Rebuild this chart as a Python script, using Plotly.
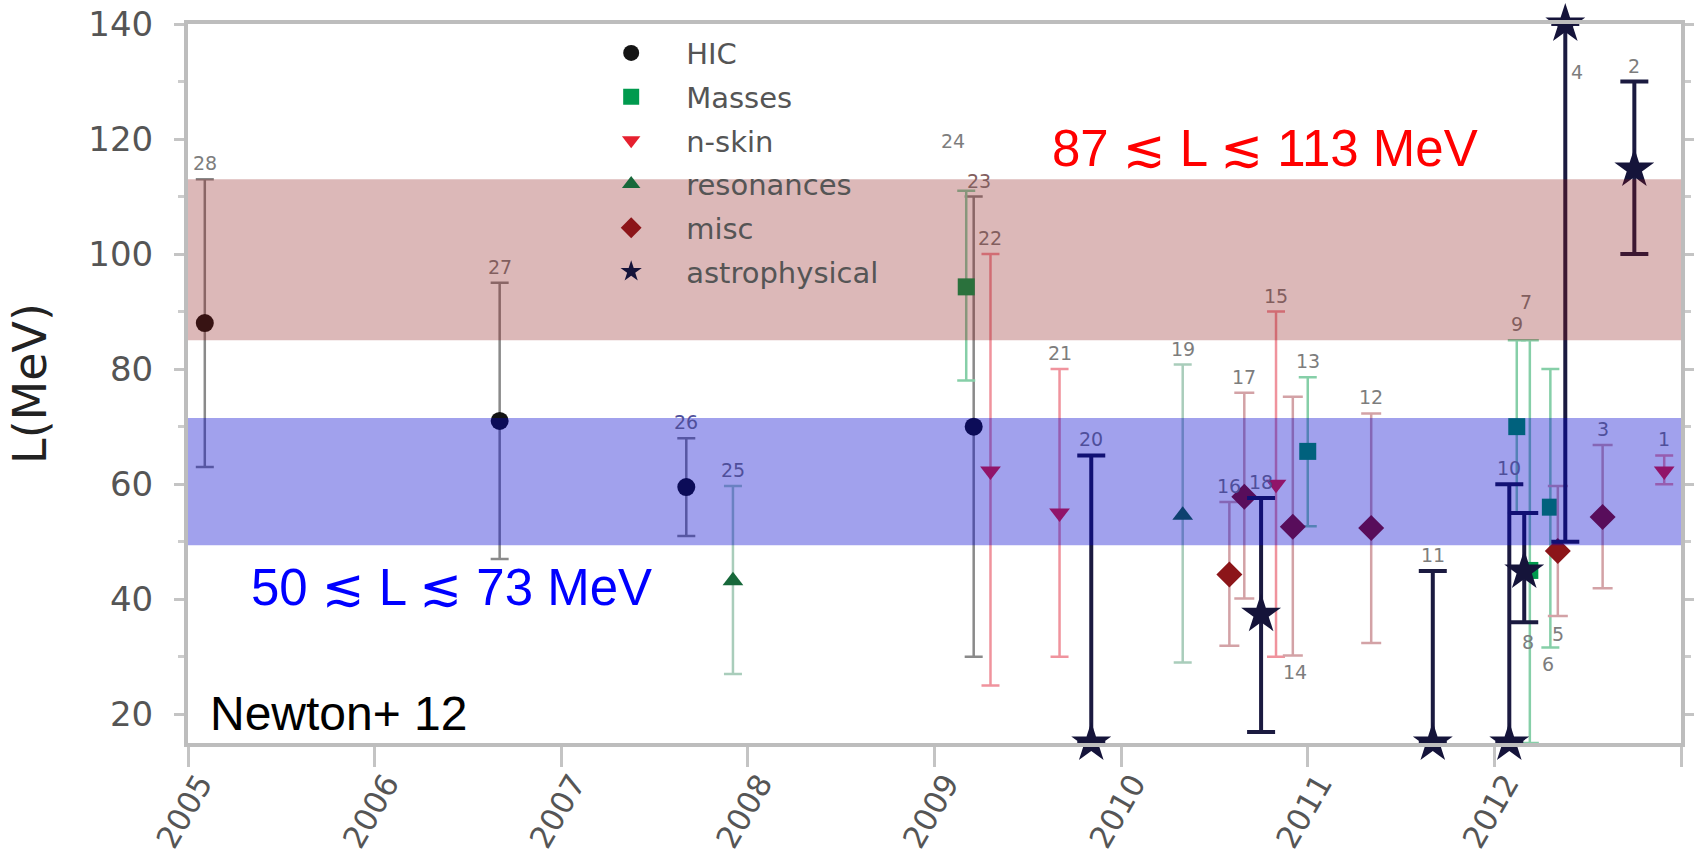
import plotly.graph_objects as go

# ---- constraint data: id, publication year, central L (MeV), lower / upper bound ----
hic_id = [28, 27, 26, 23]
hic_year = [2005.09, 2006.67, 2007.67, 2009.21]
hic_L = [88.0, 71.0, 59.5, 70.0]
hic_lo = [63.0, 47.0, 51.0, 30.0]
hic_hi = [113.0, 95.0, 68.0, 110.0]

mass_id = [24, 13, 9, 7, 6]
mass_year = [2009.17, 2011.00, 2012.12, 2012.19, 2012.30]
mass_L = [94.3, 65.7, 70.0, 45.0, 56.0]
mass_lo = [78.0, 52.7, 55.0, 15.0, 31.6]
mass_hi = [111.0, 78.6, 85.0, 85.0, 80.0]

skin_id = [22, 21, 15, 1]
skin_year = [2009.30, 2009.67, 2010.83, 2012.91]
skin_L = [62.3, 55.0, 60.0, 62.3]
skin_lo = [25.0, 30.0, 30.0, 60.0]
skin_hi = [100.0, 80.0, 90.0, 65.0]

res_id = [25, 19]
res_year = [2007.92, 2010.33]
res_L = [43.2, 54.6]
res_lo = [27.0, 29.0]
res_hi = [59.7, 80.8]

misc_id = [16, 17, 14, 12, 5, 3]
misc_year = [2010.58, 2010.66, 2010.92, 2011.34, 2012.34, 2012.58]
misc_L = [44.3, 57.8, 52.6, 52.4, 48.4, 54.3]
misc_lo = [31.9, 40.1, 30.2, 32.4, 37.1, 41.9]
misc_hi = [56.9, 75.9, 75.2, 72.3, 59.7, 66.8]

astro_id = [20, 18, 11, 10, 8, 4, 2]
astro_year = [2009.84, 2010.75, 2011.67, 2012.08, 2012.16, 2012.38, 2012.75]
astro_L = [15.0, 37.4, 15.0, 15.0, 44.9, 140.0, 114.8]
astro_lo = [15.0, 16.9, 15.0, 15.0, 36.0, 50.0, 100.0]
astro_hi = [65.0, 57.6, 44.9, 60.0, 55.0, 140.0, 130.0]

# consensus bands (MeV)
band_low = [49.4, 71.5]
band_high = [85.0, 113.0]

year_ticks = [2005, 2006, 2007, 2008, 2009, 2010, 2011, 2012, 2013]
year_text = ["2005", "2006", "2007", "2008", "2009", "2010", "2011", "2012", ""]
L_ticks = [20, 40, 60, 80, 100, 120, 140]

# ---- styling ----
BLUE_RGB, BLUE_A = (0, 0, 205), 0.37
RED_RGB, RED_A = (140, 20, 20), 0.30
FONT = "DejaVu Sans"
BIG_FONT = "Liberation Sans, Arial, DejaVu Sans"
Y_RANGE = [15.0, 140.0]

groups = [
    dict(name="HIC", ids=hic_id, x=hic_year, y=hic_L, lo=hic_lo, hi=hic_hi,
         symbol="circle", color="#141414", size=18, ecolor="#8a8a8a", eth=2.5, ew=9),
    dict(name="Masses", ids=mass_id, x=mass_year, y=mass_L, lo=mass_lo, hi=mass_hi,
         symbol="square", color="#009a4e", size=17, ecolor="#86cfa8", eth=2.5, ew=9),
    dict(name="n-skin", ids=skin_id, x=skin_year, y=skin_L, lo=skin_lo, hi=skin_hi,
         symbol="triangle-down", color="#e6202f", size=18, ecolor="#f0939d", eth=2.5, ew=9),
    dict(name="resonances", ids=res_id, x=res_year, y=res_L, lo=res_lo, hi=res_hi,
         symbol="triangle-up", color="#17683a", size=18, ecolor="#a9cdbb", eth=2.5, ew=9),
    dict(name="misc", ids=misc_id, x=misc_year, y=misc_L, lo=misc_lo, hi=misc_hi,
         symbol="diamond", color="#8c1519", size=20, ecolor="#d3a2a6", eth=2.5, ew=10),
    dict(name="astrophysical", ids=astro_id, x=astro_year, y=astro_L, lo=astro_lo, hi=astro_hi,
         symbol="star", color="#15143a", size=30, ecolor="#1b1a40", eth=4, ew=14),
]

# where each number label sits relative to its error bar: (side, xshift px, extra yshift px)
label_place = {
    14: ("below", 2, 0), 8: ("below", 4, -4), 5: ("below", 0, -2), 6: ("below", -2, 0),
    4: ("right", 12, 0), 7: ("above", -4, 22), 24: ("above", -13, 34), 23: ("above", 5, 0),
}

fig = go.Figure()

for g in groups:
    fig.add_trace(go.Scatter(
        x=g["x"], y=g["y"], mode="markers", name=g["name"], legendgroup=g["name"],
        cliponaxis=False,
        marker=dict(symbol=g["symbol"], color=g["color"], size=g["size"], line=dict(width=0)),
        error_y=dict(type="data", symmetric=False,
                     array=[h - v for h, v in zip(g["hi"], g["y"])],
                     arrayminus=[v - l for v, l in zip(g["y"], g["lo"])],
                     color=g["ecolor"], thickness=g["eth"], width=g["ew"]),
    ))


def tint(base, v):
    """Colour a label as it looks under the translucent bands."""
    r, gg, b = base
    if band_low[0] <= v <= band_low[1]:
        c, a = BLUE_RGB, BLUE_A
    elif band_high[0] <= v <= band_high[1]:
        c, a = RED_RGB, RED_A
    else:
        return f"rgb({r},{gg},{b})"
    return "rgb({},{},{})".format(*(int(round(p * (1 - a) + q * a)) for p, q in zip(base, c)))


PX_PER_UNIT = 719 / (Y_RANGE[1] - Y_RANGE[0])
for g in groups:
    for i, x, v, lo, hi in zip(g["ids"], g["x"], g["y"], g["lo"], g["hi"]):
        side, xs, ys = label_place.get(i, ("above", 0, 0))
        if side == "above":
            yv, ya, yshift = hi, "bottom", 3 + ys
            center = hi + (15 + ys) / PX_PER_UNIT
        elif side == "below":
            yv, ya, yshift = lo, "top", -3 + ys
            center = lo - (15 - ys) / PX_PER_UNIT
        else:
            yv, ya, yshift = 131.6, "middle", 0
            center = yv
        fig.add_annotation(
            x=x, y=yv, xref="x", yref="y", text=str(i), showarrow=False,
            xanchor="center", yanchor=ya, xshift=xs, yshift=yshift,
            font=dict(family=FONT, size=19, color=tint((125, 125, 125), center)),
        )

# translucent consensus bands drawn over the data
fig.add_shape(type="rect", xref="paper", yref="y", x0=0, x1=1, y0=band_high[0], y1=band_high[1],
              fillcolor="rgba({},{},{},{})".format(*RED_RGB, RED_A), line=dict(width=0), layer="above")
fig.add_shape(type="rect", xref="paper", yref="y", x0=0, x1=1, y0=band_low[0], y1=band_low[1],
              fillcolor="rgba({},{},{},{})".format(*BLUE_RGB, BLUE_A), line=dict(width=0), layer="above")

fig.add_annotation(x=2010.77, y=118.3, xref="x", yref="y", showarrow=False,
                   text="87 \u2272 L \u2272 113 MeV",
                   font=dict(family=BIG_FONT, size=51, color="#ff0000"))
fig.add_annotation(x=2006.41, y=42.1, xref="x", yref="y", showarrow=False,
                   text="50 \u2272 L \u2272 73 MeV",
                   font=dict(family=BIG_FONT, size=51, color="#0000ff"))
fig.add_annotation(x=2005.107, y=20.2, xref="x", yref="y", showarrow=False,
                   xanchor="left", yanchor="middle", text="Newton+ 12",
                   font=dict(family=BIG_FONT, size=48, color="#000000"))

axis_line = "#bdbdbd"
fig.update_layout(
    width=1694, height=861,
    margin=dict(l=188, r=13, t=24, b=118),
    paper_bgcolor="white", plot_bgcolor="white",
    showlegend=True,
    legend=dict(x=0.26, y=0.995, xanchor="left", yanchor="top",
                bgcolor="rgba(0,0,0,0)", borderwidth=0,
                font=dict(family=FONT, size=29, color="#555555"),
                itemwidth=100, itemsizing="trace", tracegroupgap=3),
    xaxis=dict(range=[2005, 2013], tickvals=year_ticks, ticktext=year_text, tickangle=-60,
               ticks="outside", ticklen=20, tickwidth=3, tickcolor="#c4c4c4",
               ticklabelstandoff=-14, ticklabelshift=12,
               showline=True, linecolor=axis_line, linewidth=4, mirror=True,
               showgrid=False, zeroline=False, automargin=False,
               tickfont=dict(family=FONT, size=31, color="#555555")),
    yaxis=dict(range=Y_RANGE, tickvals=L_ticks,
               ticks="outside", ticklen=10, tickwidth=3, tickcolor="#c4c4c4",
               ticklabelstandoff=14,
               minor=dict(tick0=10, dtick=20, ticks="outside", ticklen=6, tickwidth=3,
                          tickcolor="#cccccc"),
               showline=True, linecolor=axis_line, linewidth=4, mirror="ticks",
               showgrid=False, zeroline=False, automargin=False,
               tickfont=dict(family=FONT, size=34, color="#555555"),
               title=dict(text="L(MeV)", standoff=28,
                          font=dict(family=FONT, size=46, color="#222222"))),
)

fig.write_html("out.html")
